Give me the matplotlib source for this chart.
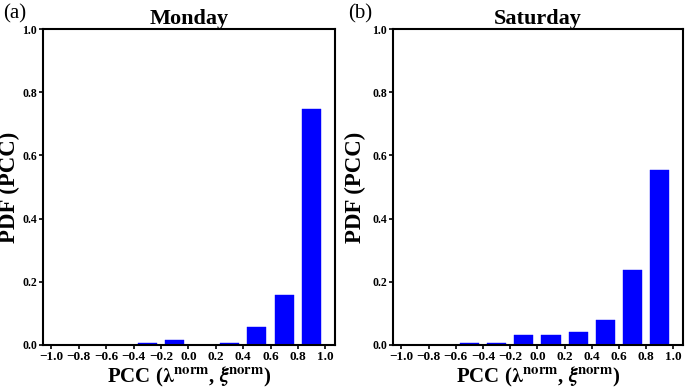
import matplotlib
matplotlib.use('Agg')
import matplotlib.pyplot as plt
import numpy as np

plt.rcParams['font.family'] = ['Liberation Serif', 'DejaVu Serif']
plt.rcParams['mathtext.fontset'] = 'stix'

BIN_CENTERS = [-0.9, -0.7, -0.5, -0.3, -0.1, 0.1, 0.3, 0.5, 0.7, 0.9]
MONDAY_PDF = [0.0, 0.0, 0.0, 0.007, 0.015, 0.0, 0.007, 0.057, 0.158, 0.748]
SATURDAY_PDF = [0.0, 0.0, 0.007, 0.007, 0.032, 0.032, 0.040, 0.080, 0.237, 0.555]
TITLES = ['Monday', 'Saturday']
PANEL_TAGS = ['(a)', '(b)']
X_TICKS = [-1.0, -0.8, -0.6, -0.4, -0.2, 0.0, 0.2, 0.4, 0.6, 0.8, 1.0]
Y_TICKS = [0.0, 0.2, 0.4, 0.6, 0.8, 1.0]

XLABEL = r'PCC ($\boldsymbol{\lambda}^{\mathbf{norm}}$, $\boldsymbol{\xi}^{\mathbf{norm}}$)'

fig = plt.figure(figsize=(6.85, 3.92), dpi=100)
axes_pos = [
    [0.063, 0.12, 0.426, 0.806],
    [0.574, 0.12, 0.423, 0.806],
]
ylabel_x = [-0.078, -0.095]
tag_x = [0.004, 0.508]

for i, pdf in enumerate([MONDAY_PDF, SATURDAY_PDF]):
    ax = fig.add_axes(axes_pos[i])
    ax.bar(BIN_CENTERS, pdf, width=0.14, color='#0000ff', edgecolor='#0000ff', linewidth=0.3)
    ax.set_xlim(-1.06, 1.07)
    ax.set_ylim(0, 1.0)
    ax.set_xticks(X_TICKS)
    ax.set_xticklabels([f'{t:.1f}'.replace('-', '\u2212') for t in X_TICKS],
                       fontsize=9.5, fontweight='bold')
    ax.set_yticks(Y_TICKS)
    ax.set_yticklabels([f'{t:.1f}' for t in Y_TICKS], fontsize=8.5, fontweight='bold')
    ax.tick_params(direction='out', length=3, width=1.2, pad=1.5)
    for sp in ax.spines.values():
        sp.set_linewidth(1.5)
    ax.set_title(TITLES[i], fontsize=16, fontweight='bold', pad=3)
    ax.set_ylabel('PDF (PCC)', fontsize=16.5, fontweight='bold')
    ax.yaxis.set_label_coords(ylabel_x[i], 0.5)
    ax.set_xlabel(XLABEL, fontsize=15, fontweight='bold', labelpad=1)
    fig.text(tag_x[i], 0.988, PANEL_TAGS[i], fontsize=15, ha='left', va='top')

fig.savefig('out.png', dpi=100)
